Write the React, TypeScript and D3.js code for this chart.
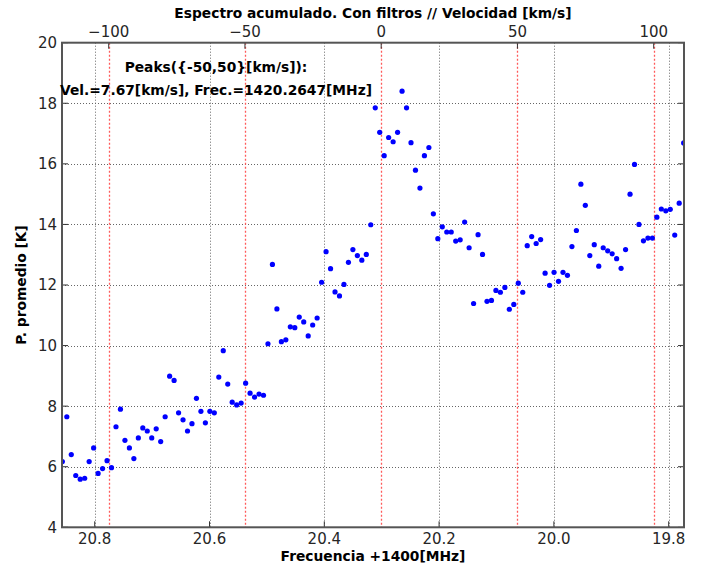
import React from "react";
import * as d3 from "d3";

// Channel grid (frequency offset from 1400 MHz)
const FREQ_START = 20.8564;
const FREQ_STEP = -0.007788;

// Averaged power per channel [K]
const power: number[] = [
  6.17, 7.65, 6.4, 5.71, 5.59, 5.62, 6.17, 6.62, 5.78, 5.94,
  6.2, 5.97, 7.32, 7.9, 6.87, 6.62, 6.27, 6.95, 7.28, 7.18,
  6.95, 7.25, 6.83, 7.65, 8.99, 8.85, 7.78, 7.55, 7.18, 7.42,
  8.26, 7.83, 7.45, 7.83, 7.78, 8.96, 9.83, 8.73, 8.13, 8.04,
  8.1, 8.76, 8.43, 8.3, 8.4, 8.36, 10.06, 12.68, 11.21, 10.13,
  10.19, 10.62, 10.59, 10.94, 10.78, 10.32, 10.68, 10.91, 12.09, 13.1,
  12.54, 11.77, 11.64, 12.02, 12.75, 13.17, 12.97, 12.82, 13.01, 13.99,
  17.85, 17.04, 16.27, 16.87, 16.73, 17.04, 18.4, 17.85, 16.7, 15.79,
  15.2, 16.27, 16.54, 14.35, 13.53, 13.92, 13.75, 13.75, 13.45, 13.49,
  14.08, 13.23, 11.39, 13.66, 13.01, 11.46, 11.49, 11.82, 11.76, 11.92,
  11.2, 11.36, 12.06, 11.76, 13.3, 13.6, 13.37, 13.5, 12.39, 11.99,
  12.42, 12.12, 12.42, 12.32, 13.27, 13.8, 15.33, 14.63, 12.97, 13.33,
  12.62, 13.23, 13.13, 13.03, 12.87, 12.55, 13.17, 15.0, 15.98, 14.0,
  13.46, 13.55, 13.55, 14.24, 14.51, 14.45, 14.5, 13.65, 14.7, 16.69,
];

const freqTicks = [20.8, 20.6, 20.4, 20.2, 20.0, 19.8];
const velTicks = [-100, -50, 0, 50, 100];
const yTicks = [4, 6, 8, 10, 12, 14, 16, 18, 20];

const TITLE = "Espectro acumulado. Con filtros // Velocidad [km/s]";
const XLABEL = "Frecuencia +1400[MHz]";
const YLABEL = "P. promedio [K]";
const NOTE1 = "Peaks({-50,50}[km/s]):";
const NOTE2 = "Vel.=7.67[km/s], Frec.=1420.2647[MHz]";

const W = 701;
const H = 569;
const L = 62;
const R = 684;
const T = 42.7;
const B = 527.3;

export default function App() {
  const x = d3.scaleLinear().domain([20.857, 19.7733]).range([L, R]);
  const xv = d3.scaleLinear().domain([-117.14, 111.12]).range([L, R]);
  const y = d3.scaleLinear().domain([4, 20]).range([B, T]);
  const pts = power.map((p, i) => ({ f: FREQ_START + i * FREQ_STEP, p }));
  const font = "'DejaVu Sans', sans-serif";
  const tickColor = "#262626";

  return (
    <svg
      width={W}
      height={H}
      style={{ position: "absolute", left: 0, top: 0, background: "#fff" }}
      fontFamily={font}
    >
      <defs>
        <clipPath id="plotclip">
          <rect x={L} y={T} width={R - L} height={B - T} />
        </clipPath>
      </defs>
      <rect x={0} y={0} width={W} height={H} fill="#fff" />
      {/* grid */}
      <g stroke="#666" strokeWidth={1} strokeDasharray="1,2">
        {yTicks
          .filter((t) => t > 4 && t < 20)
          .map((t) => (
            <line key={"gy" + t} x1={L} x2={R} y1={Math.round(y(t)) + 0.5} y2={Math.round(y(t)) + 0.5} />
          ))}
        {freqTicks.map((t) => (
          <line key={"gx" + t} x1={Math.round(x(t)) + 0.5} x2={Math.round(x(t)) + 0.5} y1={T} y2={B} />
        ))}
      </g>
      <g stroke="#ff5a5a" strokeWidth={1.3} strokeDasharray="2,2">
        {velTicks.map((t) => (
          <line key={"gv" + t} x1={Math.round(xv(t)) + 0.5} x2={Math.round(xv(t)) + 0.5} y1={T} y2={B} />
        ))}
      </g>
      {/* points */}
      <g clipPath="url(#plotclip)" fill="#0000ff">
        {pts.map((d, i) => (
          <circle key={i} cx={x(d.f)} cy={y(d.p)} r={2.6} />
        ))}
      </g>
      {/* ticks */}
      <g stroke="#333" strokeWidth={1}>
        {yTicks.map((t) => (
          <g key={"ty" + t}>
            <line x1={L} x2={L + 6} y1={y(t)} y2={y(t)} />
            <line x1={R} x2={R - 6} y1={y(t)} y2={y(t)} />
          </g>
        ))}
        {freqTicks.map((t) => (
          <line key={"tx" + t} x1={x(t)} x2={x(t)} y1={B} y2={B - 6} />
        ))}
        {velTicks.map((t) => (
          <line key={"tv" + t} x1={xv(t)} x2={xv(t)} y1={T} y2={T + 6} />
        ))}
      </g>
      {/* frame */}
      <rect x={L} y={T} width={R - L} height={B - T} fill="none" stroke="#555" strokeWidth={2} />
      {/* tick labels */}
      <g fontSize={15} fill={tickColor}>
        {yTicks.map((t) => (
          <text key={"ly" + t} x={L - 5} y={y(t)} dy="0.36em" textAnchor="end">
            {d3.format("d")(t)}
          </text>
        ))}
        {freqTicks.map((t) => (
          <text key={"lx" + t} x={x(t)} y={544} textAnchor="middle">
            {d3.format(".1f")(t)}
          </text>
        ))}
        {velTicks.map((t) => (
          <text key={"lv" + t} x={xv(t)} y={37} textAnchor="middle">
            {d3.format("d")(t).replace("-", "\u2212")}
          </text>
        ))}
      </g>
      {/* titles */}
      <g fontSize={13.8} fontWeight="bold" fill="#000">
        <text x={373} y={17.5} textAnchor="middle">{TITLE}</text>
        <text x={373} y={561} textAnchor="middle">{XLABEL}</text>
        <text transform={`translate(26,${(T + B) / 2}) rotate(-90)`} textAnchor="middle">
          {YLABEL}
        </text>
        <text x={216} y={71.5} textAnchor="middle">{NOTE1}</text>
        <text x={216} y={94.5} textAnchor="middle">{NOTE2}</text>
      </g>
    </svg>
  );
}
